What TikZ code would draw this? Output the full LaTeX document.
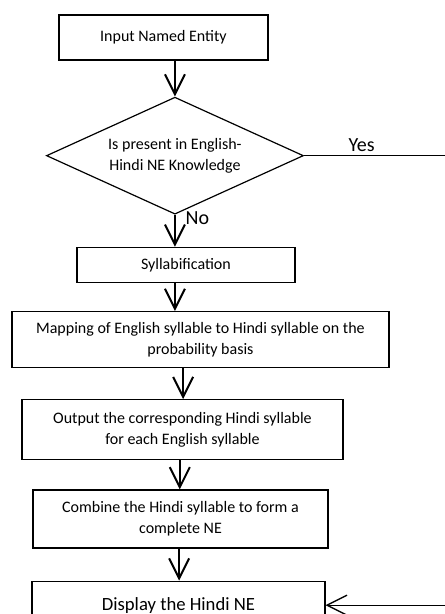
\documentclass[tikz,border=0pt]{standalone}
\usepackage{fontspec}
\setmainfont{Carlito}
\usetikzlibrary{arrows.meta,positioning,shapes.geometric}
\tikzset{%
  >={Straight Barb[length=15pt,width=15pt]},
  % Specifications for style of nodes:
            box/.style = {rectangle, draw=black, line width=0.9pt,
                          text centered, align=center, inner sep=2pt,
                          font=\fontsize{12}{16}\selectfont},
       decision/.style = {diamond, draw=black, line width=0.9pt, aspect=2.2,
                          minimum width=192.75pt, minimum height=87.75pt,
                          inner sep=0pt, align=center,
                          font=\fontsize{12}{16}\selectfont},
           flow/.style = {->, line width=1.5pt},
        yesline/.style = {line width=1pt},
}

\begin{document}
\begin{tikzpicture}[x=1pt, y=1pt]
  \useasboundingbox (0,0) rectangle (333.75,-460.5);
  \clip (0,0) rectangle (333.75,-460.5);
  % Specification of nodes (position, etc.)

  \node (input)   [box, minimum width=156.75pt, minimum height=33.75pt] at (122.6,-28.1) {Input Named Entity};
  \node (check)   [decision, below=27pt of input, xshift=8.6pt] {Is present in English-\\Hindi NE Knowledge};
  \node (syll)    [box, minimum width=163.5pt, minimum height=26.25pt, below=24pt of check, xshift=8.25pt] {Syllabification};
  \node (mapping) [box, minimum width=282.75pt, minimum height=42pt, below=21pt of syll, xshift=10.9pt] {Mapping of English syllable to Hindi syllable on the\\probability basis};
  \node (output)  [box, minimum width=240.75pt, minimum height=45pt, below=23.25pt of mapping, xshift=-13.5pt] {Output the corresponding Hindi syllable\\for each English syllable};
  \node (combine) [box, minimum width=221.25pt, minimum height=43.5pt, below=21.75pt of output, xshift=-1.5pt] {Combine the Hindi syllable to form a\\complete NE};
  \node (display) [box, minimum width=219.75pt, minimum height=36pt, below=24pt of combine, xshift=-1.5pt, font=\fontsize{14}{17}\selectfont] {Display the Hindi NE};

  \coordinate (yesend) at (336,0 |- check.east);

  \draw[flow]    (input.south -| check.north) -- (check.north);
  \draw[flow]    (check.south) -- (check.south |- syll.north) node[pos=0.12, right=4pt, font=\fontsize{15}{18}\selectfont] {No};
  \draw[flow]    (syll.south -| check.south) -- (check.south |- mapping.north);
  \draw[flow]    ([xshift=-13pt]mapping.south) -- ([xshift=-13pt]mapping.south |- output.north);
  \draw[flow]    ([xshift=-2pt]output.south) -- ([xshift=-2pt]output.south |- combine.north);
  \draw[flow]    ([xshift=-1pt]combine.south) -- ([xshift=-1pt]combine.south |- display.north);
  \draw[yesline] (check.east) -- (yesend) node[pos=0.4, above=-1pt, font=\fontsize{15}{18}\selectfont] {Yes};
  \draw[yesline, ->] (yesend) |- (display.east);

\end{tikzpicture}
\end{document}
